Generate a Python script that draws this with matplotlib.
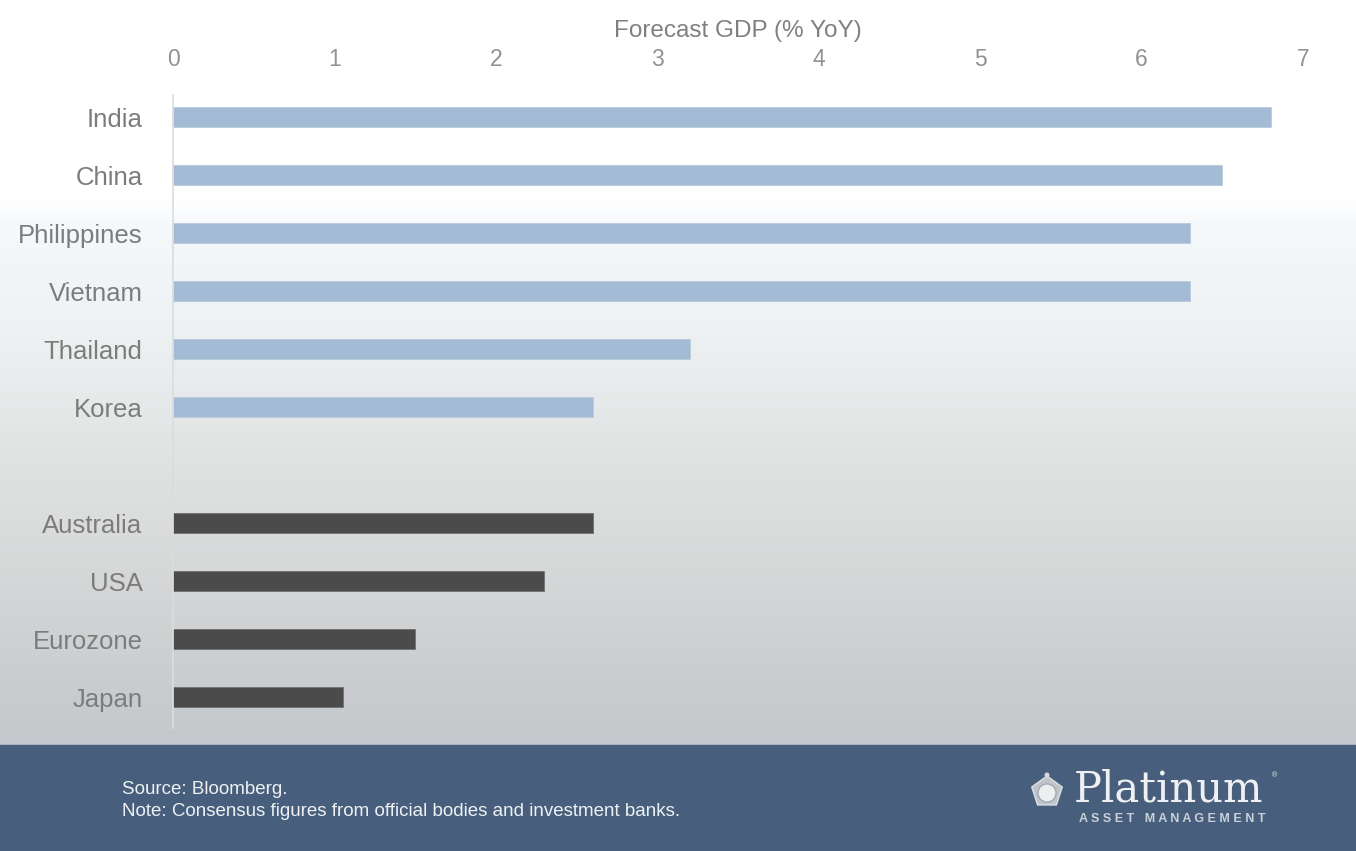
"""
plot.py

Forecast GDP growth, Asia vs developed markets.
"""
import numpy as np
import matplotlib
matplotlib.use('Agg')
import matplotlib.pyplot as plt
import matplotlib.patches as mpatches
from matplotlib.colors import LinearSegmentedColormap

################################################################################
# Data
################################################################################
asia_countries = ['India', 'China', 'Philippines', 'Vietnam', 'Thailand', 'Korea']
asia_gdp = [6.8, 6.5, 6.3, 6.3, 3.2, 2.6]

dev_countries = ['Australia', 'USA', 'Eurozone', 'Japan']
dev_gdp = [2.6, 2.3, 1.5, 1.05]

x_ticks = [0, 1, 2, 3, 4, 5, 6, 7]
axis_title = 'Forecast GDP (% YoY)'
source_lines = ['Source: Bloomberg.',
                'Note: Consensus figures from official bodies and investment banks.']

W, H = 1356.0, 851.0


def fx(px):
    """pixel x -> figure fraction"""
    return px / W


def fy(py):
    """pixel y (from top) -> figure fraction"""
    return 1 - py / H


################################################################################
# Figure
################################################################################
plt.rcParams['font.family'] = ['Liberation Sans', 'DejaVu Sans']

fig = plt.figure(figsize=(13.56, 8.51), dpi=100)

# Background gradient (white top -> light gray bottom)
bg = fig.add_axes([0, 0, 1, 1], zorder=-10)
grad_cmap = LinearSegmentedColormap.from_list('bg', [
    (0.00, '#ffffff'),
    (0.27, '#ffffff'),
    (0.30, '#f6f9fc'),
    (0.45, '#eef1f2'),
    (0.60, '#e2e4e4'),
    (0.80, '#d3d5d6'),
    (1.00, '#c4c7cb'),
])
grad = np.linspace(0, 1, 256).reshape(-1, 1)
bg.imshow(grad, aspect='auto', cmap=grad_cmap, extent=[0, 1, 0.124, 1], origin='upper')
bg.add_patch(mpatches.Rectangle((0, 0), 1, 0.124, color='#475f7c', transform=bg.transAxes))
bg.set_xlim(0, 1)
bg.set_ylim(0, 1)
bg.axis('off')

# Main axes
ax = fig.add_axes([0.1276, 0.1445, 0.8334, 0.7439])
ax.patch.set_alpha(0)

labels = asia_countries + [''] + dev_countries
asia_pos = np.arange(len(asia_countries))
dev_pos = np.arange(len(dev_countries)) + len(asia_countries) + 1

ax.barh(asia_pos, asia_gdp, height=0.345, color='#a3bbd4', edgecolor='#b9cadb', linewidth=0.6)
ax.barh(dev_pos, dev_gdp, height=0.345, color='#4b4b4b', edgecolor='#707070', linewidth=0.6)

ax.set_xlim(0, 7)
ax.set_ylim(10.53, -0.38)
ax.set_yticks(np.arange(len(labels)))
ax.set_yticklabels(labels)

ax.xaxis.tick_top()
ax.xaxis.set_label_position('top')
ax.set_xticks(x_ticks)
ax.set_xticklabels([str(t) for t in x_ticks])
ax.set_xlabel(axis_title, fontsize=17.5, color='#808080', labelpad=8)

ax.tick_params(axis='x', length=0, pad=17, labelsize=16.5, labelcolor='#929292')
ax.tick_params(axis='y', length=0, pad=22, labelsize=18.5, labelcolor='#7c7c7c')

for side in ['top', 'right', 'bottom']:
    ax.spines[side].set_visible(False)
ax.spines['left'].set_color('#dcdcdc')
ax.spines['left'].set_linewidth(1.2)

# Footer text
fig.text(fx(122), fy(789), source_lines[0], fontsize=13.5, color='#eef1f4', va='center')
fig.text(fx(122), fy(811), source_lines[1], fontsize=13.5, color='#eef1f4', va='center')

# Logo: pentagon badge
cx, cy, r = 1047.0, 792.0, 16.0
ang = np.deg2rad(90 + 72 * np.arange(5))
verts = np.column_stack([fx(cx + r * np.cos(ang)), fy(cy - r * np.sin(ang))])
fig.patches.append(mpatches.Polygon(verts, closed=True, facecolor='#bfc4ca', edgecolor='#dde1e5',
                                    linewidth=1, transform=fig.transFigure))
fig.patches.append(mpatches.Ellipse((fx(cx), fy(cy + 1)), 18 / W, 18 / H, facecolor='#eceef0',
                                    edgecolor='#9aa1a8', linewidth=0.8, transform=fig.transFigure))
fig.patches.append(mpatches.Ellipse((fx(cx), fy(cy - r - 1)), 5 / W, 5 / H, facecolor='#d5d9dd',
                                    edgecolor='none', transform=fig.transFigure))
fig.text(fx(1074), fy(801), 'Platinum', fontsize=30, family='DejaVu Serif',
         color='#eef0f3', va='baseline', ha='left')
fig.text(fx(1272), fy(776), '\u00ae', fontsize=5, color='#eef0f3', va='center')
fig.text(fx(1079), fy(819), 'A S S E T   M A N A G E M E N T', fontsize=9,
         color='#c9d0d9', va='center', ha='left', weight='bold')

fig.savefig('out.png', dpi=100)
plt.close(fig)
